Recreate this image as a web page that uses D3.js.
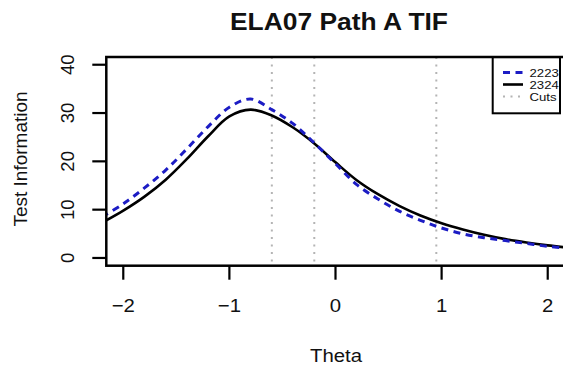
<!DOCTYPE html>
<html><head><meta charset="utf-8">
<script src="https://cdn.jsdelivr.net/npm/d3@7"></script>
<style>body{margin:0;background:#fff}svg{display:block}text{font-family:"Liberation Sans",Arial,sans-serif;fill:#111}</style>
</head><body><svg id="c" width="563" height="372"></svg>
<script>
const theta = [-2.2,-2.0,-1.8,-1.6,-1.4,-1.2,-1.0,-0.8,-0.6,-0.4,-0.2,0,0.2,0.4,0.6,0.8,1.0,1.2,1.4,1.6,1.8,2.0,2.2];
const tif2324 = [7.3,9.8,12.7,16.2,20.5,25.2,29.3,30.7,29.5,27.0,23.7,19.8,16.1,13.2,10.8,8.8,7.2,5.9,4.8,3.9,3.2,2.6,2.1];
const tif2223 = [8.5,11.2,14.5,18.2,22.6,27.2,31.2,32.9,30.7,27.8,23.8,19.5,15.2,12.2,9.7,7.8,6.2,5.0,4.2,3.6,3.0,2.4,2.0];
const cuts = [-0.60,-0.20,0.95];
const xTicks = [-2,-1,0,1,2];
const yTicks = [0,10,20,30,40];
const seriesNames = ["2223","2324","Cuts"];
const title = "ELA07 Path A TIF";
const xLabel = "Theta", yLabel = "Test Information";

const svg = d3.select("#c");
const SX = 1.1;
const x = d3.scaleLinear().domain([-2.16,2.16]).range([106.3,564.7]);
const y = d3.scaleLinear().domain([-1.6,41.6]).range([265.7,57]);
const L=106.3,R=564.7,T=57,B=265.7;

svg.append("defs").append("clipPath").attr("id","clip").append("rect")
  .attr("x",L).attr("y",T).attr("width",R-L).attr("height",B-T);

const plot = svg.append("g").attr("clip-path","url(#clip)");
plot.selectAll("line.cut").data(cuts).enter().append("line")
  .attr("x1",d=>x(d)).attr("x2",d=>x(d)).attr("y1",T).attr("y2",B)
  .attr("stroke","#b4b4b4").attr("stroke-width",2).attr("stroke-dasharray","2,5.5");

const line = d3.line().x(d=>x(d[0])).y(d=>y(d[1])).curve(d3.curveCatmullRom.alpha(0.5));
plot.append("path").datum(theta.map((t,i)=>[t,tif2324[i]])).attr("d",line)
  .attr("fill","none").attr("stroke","#000").attr("stroke-width",2.6);
plot.append("path").datum(theta.map((t,i)=>[t,tif2223[i]])).attr("d",line)
  .attr("fill","none").attr("stroke","#1c1cc4").attr("stroke-width",3).attr("stroke-dasharray","7,5.5");

svg.append("rect").attr("x",L).attr("y",T).attr("width",R-L).attr("height",B-T)
  .attr("fill","none").attr("stroke","#000").attr("stroke-width",2.5);

const xa = svg.append("g");
xa.selectAll("line").data(xTicks).enter().append("line")
  .attr("x1",d=>x(d)).attr("x2",d=>x(d)).attr("y1",B).attr("y2",B+14)
  .attr("stroke","#000").attr("stroke-width",2.2);
xa.selectAll("text").data(xTicks).enter().append("text")
  .attr("transform",d=>`translate(${x(d)},312) scale(${SX},1)`)
  .attr("text-anchor","middle").attr("font-size",18.5)
  .text(d=>d<0?"\u2212"+Math.abs(d):String(d));

const ya = svg.append("g");
ya.selectAll("line").data(yTicks).enter().append("line")
  .attr("x1",L-14).attr("x2",L).attr("y1",d=>y(d)).attr("y2",d=>y(d))
  .attr("stroke","#000").attr("stroke-width",2.2);
ya.selectAll("text").data(yTicks).enter().append("text")
  .attr("transform",d=>`translate(74,${y(d)}) rotate(-90)`)
  .attr("text-anchor","middle").attr("font-size",18.5).text(d=>d);

svg.append("text").attr("transform",`translate(339,29.5) scale(${SX},1)`)
  .attr("text-anchor","middle").attr("font-size",24).attr("font-weight","bold").text(title);
svg.append("text").attr("transform",`translate(336,362) scale(${SX},1)`)
  .attr("text-anchor","middle").attr("font-size",18.5).text(xLabel);
svg.append("text").attr("transform",`translate(27,159) rotate(-90)`)
  .attr("text-anchor","middle").attr("font-size",19).text(yLabel);

const lg = svg.append("g");
lg.append("rect").attr("x",492.7).attr("y",57.3).attr("width",67.3).attr("height",56)
  .attr("fill","#fff").attr("stroke","#000").attr("stroke-width",2);
const ly = [72.5,84.5,96.5];
const styles = [
  {stroke:"#1c1cc4",w:3,dash:"7,5.5"},
  {stroke:"#000",w:2.6,dash:null},
  {stroke:"#b4b4b4",w:2,dash:"2,5.5"}];
seriesNames.forEach((n,i)=>{
  lg.append("line").attr("x1",503).attr("x2",523).attr("y1",ly[i]).attr("y2",ly[i])
    .attr("stroke",styles[i].stroke).attr("stroke-width",styles[i].w)
    .attr("stroke-dasharray",styles[i].dash);
  lg.append("text").attr("transform",`translate(529.5,${ly[i]+4}) scale(1.28,1)`)
    .attr("font-size",10.3).text(n);
});
</script></body></html>
